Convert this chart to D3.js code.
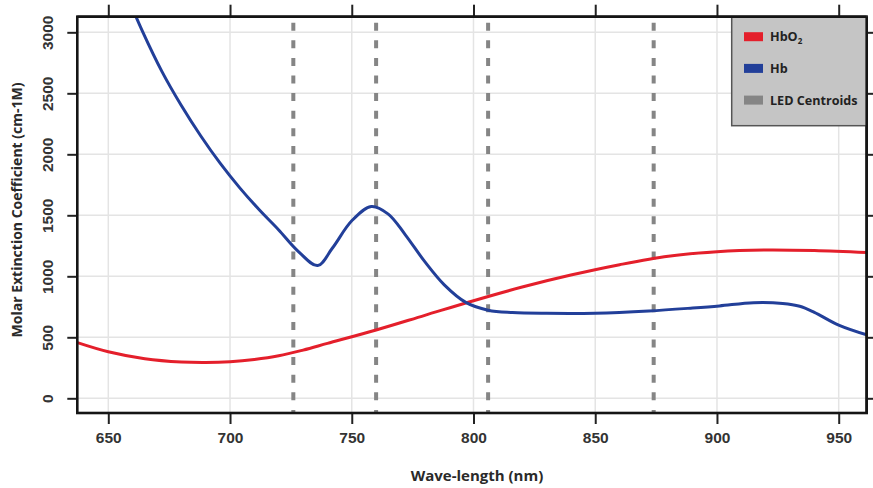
<!DOCTYPE html>
<html>
<head>
<meta charset="utf-8">
<script src="https://cdn.jsdelivr.net/npm/d3@7"></script>
<style>
  html, body { margin: 0; padding: 0; background: #fff; }
  svg { display: block; font-family: "Open Sans", "Noto Sans", sans-serif; }
</style>
</head>
<body>
<svg id="chart" width="873" height="488"></svg>
<script>
// Molar extinction spectra of oxy- and deoxy-haemoglobin, with LED centroid wavelengths
const hbo2Wavelength = [637, 650, 665, 680, 690, 700, 710, 720, 730, 740, 760, 780, 800, 820, 840, 860, 880, 900, 920, 940, 962];
const hbo2Values     = [459, 382, 325, 298, 294, 300, 318, 348, 395, 450, 560, 680, 800, 912, 1010, 1095, 1165, 1202, 1216, 1211, 1194];

const hbWavelength = [656, 664, 672, 680, 688, 696, 704, 712, 720, 728, 736, 742, 750, 758, 765, 772, 780, 788, 797, 806, 816, 830, 850, 872, 890, 901, 915, 927, 934, 940, 950, 963];
const hbValues     = [3380, 3010, 2680, 2400, 2150, 1925, 1725, 1545, 1380, 1205, 1088, 1230, 1455, 1572, 1510, 1340, 1120, 930, 784, 722, 703, 697, 698, 716, 740, 757, 784, 778, 755, 705, 600, 511];

const ledCentroids = [726, 760, 806, 874];

const xTicks = [650, 700, 750, 800, 850, 900, 950];
const yTicks = [0, 500, 1000, 1500, 2000, 2500, 3000];

const seriesNames  = ["HbO", "Hb", "LED Centroids"];
const seriesColors = ["#e41f2b", "#223f99", "#858585"];

const plot = { left: 77.3, right: 866.7, top: 16.7, bottom: 413 };

const svg = d3.select("#chart");

const x = d3.scaleLinear().domain([637.27, 961.5]).range([plot.left, plot.right]);
const y = d3.scaleLinear().domain([-120.5, 3128]).range([plot.bottom, plot.top]);

// background grid
const grid = svg.append("g").attr("stroke", "#e4e4e4").attr("stroke-width", 1.5);
grid.selectAll("line.gx").data(xTicks).join("line")
  .attr("x1", d => x(d)).attr("x2", d => x(d))
  .attr("y1", plot.top).attr("y2", plot.bottom);
grid.selectAll("line.gy").data(yTicks).join("line")
  .attr("x1", plot.left).attr("x2", plot.right)
  .attr("y1", d => y(d)).attr("y2", d => y(d));

svg.append("defs").append("clipPath").attr("id", "plotClip")
  .append("rect")
  .attr("x", plot.left).attr("y", plot.top)
  .attr("width", plot.right - plot.left).attr("height", plot.bottom - plot.top);

// LED centroid markers
svg.append("g").selectAll("line").data(ledCentroids).join("line")
  .attr("x1", d => x(d)).attr("x2", d => x(d))
  .attr("y1", plot.top).attr("y2", plot.bottom)
  .attr("stroke", seriesColors[2]).attr("stroke-width", 4)
  .attr("stroke-dasharray", "8 9.6").attr("stroke-dashoffset", 11.6);

// spectra
const line = d3.line().curve(d3.curveCatmullRom.alpha(0.5));
const curves = svg.append("g").attr("clip-path", "url(#plotClip)").attr("fill", "none")
  .attr("stroke-width", 3).attr("stroke-linejoin", "round");
curves.append("path")
  .attr("d", line(hbo2Wavelength.map((w, i) => [x(w), y(hbo2Values[i])])))
  .attr("stroke", seriesColors[0]);
curves.append("path")
  .attr("d", line(hbWavelength.map((w, i) => [x(w), y(hbValues[i])])))
  .attr("stroke", seriesColors[1]);

// axes
function styleAxis(g) {
  g.select(".domain").remove();
  g.selectAll(".tick line").attr("stroke", "#222").attr("stroke-width", 2);
  g.selectAll(".tick text").attr("fill", "#333").attr("font-size", 15.5).attr("font-weight", 600);
}

svg.append("g").attr("transform", `translate(0,${plot.bottom})`)
  .call(d3.axisBottom(x).tickValues(xTicks).tickSize(11).tickPadding(8).tickFormat(d3.format("d")))
  .call(styleAxis);

svg.append("g").attr("transform", `translate(0,${plot.top})`)
  .call(d3.axisTop(x).tickValues(xTicks).tickSize(12).tickFormat(""))
  .call(styleAxis);

const yAxis = svg.append("g").attr("transform", `translate(${plot.left},0)`)
  .call(d3.axisLeft(y).tickValues(yTicks).tickSize(10).tickFormat(d3.format("d")))
  .call(styleAxis);
yAxis.selectAll(".tick text")
  .attr("transform", "rotate(-90)")
  .attr("x", 0).attr("y", -24.5).attr("dy", 0)
  .attr("text-anchor", "middle");

svg.append("g").attr("transform", `translate(${plot.right},0)`)
  .call(d3.axisRight(y).tickValues(yTicks).tickSize(8).tickFormat(""))
  .call(styleAxis);

// frame
svg.append("rect")
  .attr("x", plot.left).attr("y", plot.top)
  .attr("width", plot.right - plot.left).attr("height", plot.bottom - plot.top)
  .attr("fill", "none").attr("stroke", "#151515").attr("stroke-width", 2.6);

// axis titles
svg.append("text")
  .attr("x", 477).attr("y", 481)
  .attr("text-anchor", "middle")
  .attr("font-size", 15).attr("font-weight", 700).attr("fill", "#2a2a2a")
  .text("Wave-length (nm)");

svg.append("text")
  .attr("transform", "translate(22,210) rotate(-90)")
  .attr("text-anchor", "middle")
  .attr("font-size", 14).attr("font-weight", 700).attr("fill", "#2a2a2a")
  .text("Molar Extinction Coefficient (cm-1M)");

// legend
const legend = svg.append("g");
legend.append("rect")
  .attr("x", 731.7).attr("y", plot.top)
  .attr("width", plot.right - 731.7).attr("height", 109)
  .attr("fill", "#c5c5c5").attr("stroke", "#555").attr("stroke-width", 1.5);

const items = legend.selectAll("g.item").data(seriesNames).join("g")
  .attr("transform", (d, i) => `translate(744,${36.7 + i * 31.7})`);
items.append("rect")
  .attr("x", 0).attr("y", -4.5).attr("width", 19).attr("height", 9)
  .attr("fill", (d, i) => seriesColors[i]);
const labels = items.append("text")
  .attr("x", 26).attr("dy", "0.36em")
  .attr("font-size", 12.6).attr("font-weight", 700).attr("fill", "#222")
  .text(d => d);
labels.filter((d, i) => i === 0).append("tspan")
  .attr("font-size", 8).attr("dy", 3).text("2");

// redraw frame edges over the legend
svg.append("line")
  .attr("x1", plot.right).attr("x2", plot.right)
  .attr("y1", plot.top).attr("y2", plot.bottom)
  .attr("stroke", "#151515").attr("stroke-width", 2.6);
svg.append("line")
  .attr("x1", plot.left).attr("x2", plot.right)
  .attr("y1", plot.top).attr("y2", plot.top)
  .attr("stroke", "#151515").attr("stroke-width", 2.6);
</script>
</body>
</html>
